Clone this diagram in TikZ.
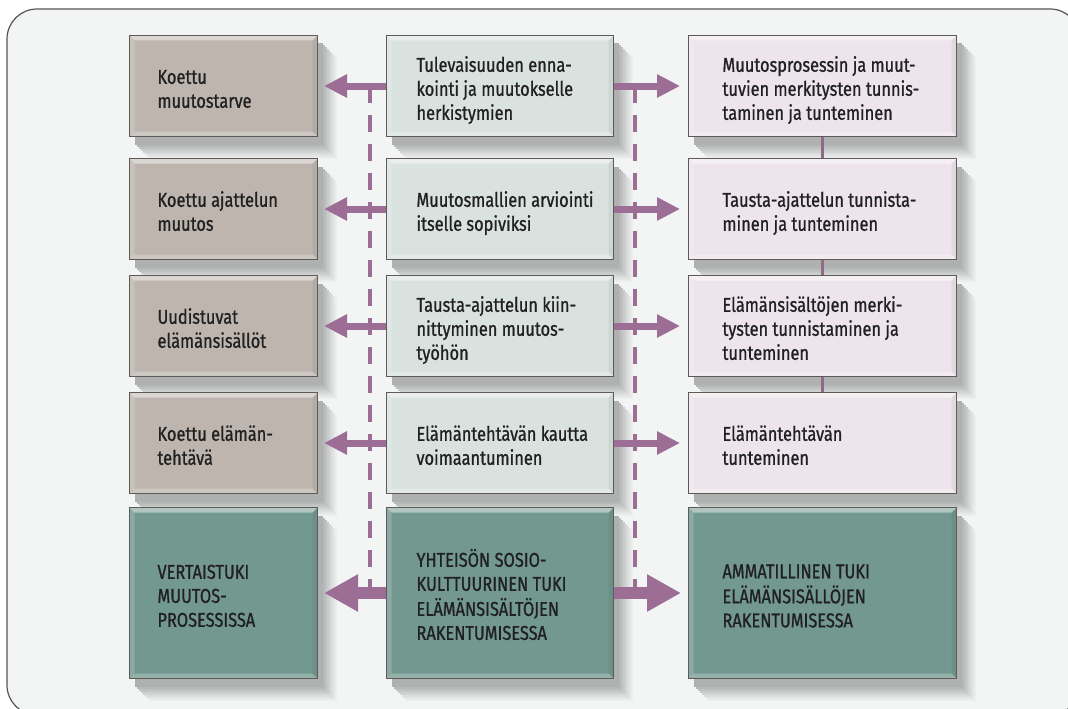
\documentclass[tikz,border=0pt]{standalone}
\usepackage{fontspec}
\setmainfont{Fira Sans}[FakeStretch=0.82, FakeBold=0.9]
\usetikzlibrary{arrows.meta,calc}

\definecolor{framefill}{HTML}{F3F4F4}
\definecolor{frameline}{HTML}{55554F}
\definecolor{boxline}{HTML}{5F5A55}
\definecolor{leftfill}{HTML}{BDB5AE}
\definecolor{midfill}{HTML}{D9E2DF}
\definecolor{rightfill}{HTML}{EEE5EC}
\definecolor{tealfill}{HTML}{729890}
\definecolor{arrowc}{HTML}{9C6E95}
\definecolor{linkc}{HTML}{8E6B87}
\definecolor{txt}{HTML}{202020}
\definecolor{shadowc}{HTML}{6A6C6C}

% left-aligned text block of fixed width, lowered slightly inside its box
\newcommand\boxtext[2]{\makebox[#1][l]{\raisebox{-5pt}[\height][\depth]{\begin{tabular}{@{}l@{}}#2\end{tabular}}}}

\begin{document}
\begin{tikzpicture}[x=1pt,y=1pt,
  font=\fontsize{20}{24}\selectfont,
  bevel/.style={path picture={
    \path (path picture bounding box.south west) coordinate (bvSW)
          (path picture bounding box.north east) coordinate (bvNE)
          (bvSW |- bvNE) coordinate (bvNW)
          (bvNE |- bvSW) coordinate (bvSE);
    \fill[white,opacity=.45] (bvNW) -- (bvNE) -- ($(bvNE)+(-5,-5)$) -- ($(bvNW)+(5,-5)$) -- cycle;
    \fill[white,opacity=.25] (bvSW) -- (bvSE) -- ($(bvSE)+(-5,5)$) -- ($(bvSW)+(5,5)$) -- cycle;
    \fill[white,opacity=.18] (bvNW) -- (bvSW) -- ($(bvSW)+(5,5)$) -- ($(bvNW)+(5,-5)$) -- cycle;
    \fill[black,opacity=.05] (bvNE) -- (bvSE) -- ($(bvSE)+(-5,5)$) -- ($(bvNE)+(-5,-5)$) -- cycle;
  }},
  % stepped soft shadow: shifted copies of the box outline, palest and farthest first
  softshadow/.style={
    preaction={fill=shadowc!5!framefill,  transform canvas={xshift=19pt,yshift=-22pt}},
    preaction={fill=shadowc!11!framefill, transform canvas={xshift=17pt,yshift=-20pt}},
    preaction={fill=shadowc!17!framefill, transform canvas={xshift=15pt,yshift=-18pt}},
    preaction={fill=shadowc!24!framefill, transform canvas={xshift=13pt,yshift=-16pt}},
    preaction={fill=shadowc!31!framefill, transform canvas={xshift=11pt,yshift=-14pt}},
    preaction={fill=shadowc!38!framefill, transform canvas={xshift=9pt,yshift=-12pt}},
    preaction={fill=shadowc!44!framefill, transform canvas={xshift=7pt,yshift=-10pt}},
    preaction={fill=shadowc!50!framefill, transform canvas={xshift=5pt,yshift=-8pt}}},
  boxbase/.style={softshadow, draw=boxline, line width=1pt, anchor=north west, text=txt,
    inner ysep=0pt, bevel},
  lbox/.style={boxbase, fill=leftfill, minimum width=188pt, inner xsep=28pt},
  mbox/.style={boxbase, fill=midfill, minimum width=227pt, inner xsep=30pt},
  rbox/.style={boxbase, fill=rightfill, minimum width=268pt, inner xsep=34pt},
  tbox/.style={fill=tealfill},
  rowa/.style={minimum height=101pt},
  rowb/.style={minimum height=171pt},
  arr/.style={draw=arrowc, line width=7pt, -{Triangle[length=23pt,width=22pt]}},
  bigarr/.style={draw=arrowc, line width=12pt, -{Triangle[length=34pt,width=35pt]}},
  dashline/.style={draw=arrowc, line width=4pt, dash pattern=on 17pt off 12pt},
  link/.style={draw=linkc, line width=3.5pt}
]
\useasboundingbox (0,0) rectangle (1068,-709);
\begin{scope}
\clip (0,0) rectangle (1068,-709);
\fill[white] (0,0) rectangle (1068,-709);
\draw[frameline, fill=framefill, line width=1.2pt, rounded corners=30pt]
  (7,-9) rectangle (1080,-715);
\end{scope}

% left column
\node[lbox, rowa] (l1) at (129,-35)  {\boxtext{132pt}{Koettu\\muutostarve}};
\node[lbox, rowa] (l2) at (129,-158) {\boxtext{132pt}{Koettu ajattelun\\muutos}};
\node[lbox, rowa] (l3) at (129,-275) {\boxtext{132pt}{Uudistuvat\\elämänsisällöt}};
\node[lbox, rowa] (l4) at (129,-392) {\boxtext{132pt}{Koettu elämän-\\tehtävä}};
\node[lbox, tbox, rowb] (l5) at (129,-507) {\boxtext{132pt}{VERTAISTUKI\\MUUTOS-\\PROSESSISSA}};

% middle column
\node[mbox, rowa] (m1) at (386,-35)  {\boxtext{167pt}{Tulevaisuuden enna-\\kointi ja muutokselle\\herkistymien}};
\node[mbox, rowa] (m2) at (386,-158) {\boxtext{167pt}{Muutosmallien arviointi\\itselle sopiviksi}};
\node[mbox, rowa] (m3) at (386,-275) {\boxtext{167pt}{Tausta-ajattelun kiin-\\nittyminen muutos-\\työhön}};
\node[mbox, rowa] (m4) at (386,-392) {\boxtext{167pt}{Elämäntehtävän kautta\\voimaantuminen}};
\node[mbox, tbox, rowb] (m5) at (386,-507) {\boxtext{167pt}{YHTEISÖN SOSIO-\\KULTTUURINEN TUKI\\ELÄMÄNSISÄLTÖJEN\\RAKENTUMISESSA}};

% right column
\node[rbox, rowa] (r1) at (688,-35)  {\boxtext{200pt}{Muutosprosessin ja muut-\\tuvien merkitysten tunnis-\\taminen ja tunteminen}};
\node[rbox, rowa] (r2) at (688,-158) {\boxtext{200pt}{Tausta-ajattelun tunnista-\\minen ja tunteminen}};
\node[rbox, rowa] (r3) at (688,-275) {\boxtext{200pt}{Elämänsisältöjen merki-\\tysten tunnistaminen ja\\tunteminen}};
\node[rbox, rowa] (r4) at (688,-392) {\boxtext{200pt}{Elämäntehtävän\\tunteminen}};
\node[rbox, tbox, rowb] (r5) at (688,-507) {\boxtext{200pt}{AMMATILLINEN TUKI\\ELÄMÄNSISÄLLÖJEN\\RAKENTUMISESSA}};

% links between the right-hand boxes
\draw[link] (r1.south) -- (r2.north);
\draw[link] (r2.south) -- (r3.north);
\draw[link] (r3.south) -- (r4.north);

% dashed verticals on both sides of the middle column
\coordinate (dl) at (370,0);
\coordinate (dr) at (635,0);
\draw[dashline] (dl |- m1.west) -- (dl |- m5.west);
\draw[dashline] (dr |- m1.east) -- (dr |- m5.east);

% arrows out of the middle column
\foreach \i in {1,2,3,4}{
  \draw[arr, shorten >=6pt] (m\i.west) -- (l\i.east);
  \draw[arr, shorten >=8pt] (m\i.east) -- (r\i.west);
}
\draw[bigarr, shorten >=6pt] (m5.west) -- (l5.east);
\draw[bigarr, shorten >=7pt] (m5.east) -- (r5.west);
\end{tikzpicture}
\end{document}
